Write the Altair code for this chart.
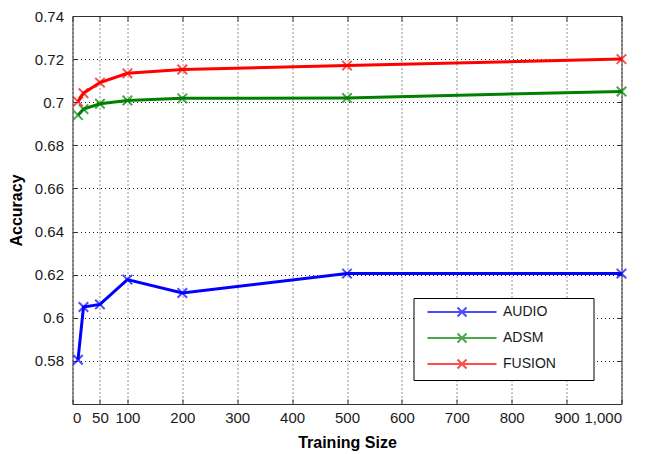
import altair as alt
import pandas as pd

sizes = [10, 20, 50, 100, 200, 500, 1000]
audio = [0.5805, 0.605, 0.6062, 0.6177, 0.6115, 0.6205, 0.6205]
adsm = [0.694, 0.6968, 0.6993, 0.7008, 0.7018, 0.702, 0.705]
fusion = [0.7003, 0.7042, 0.7091, 0.7134, 0.7152, 0.717, 0.720]
series = ["AUDIO", "ADSM", "FUSION"]
colors = ["#0000FF", "#008000", "#FF0000"]
x_ticks = [0, 50, 100, 200, 300, 400, 500, 600, 700, 800, 900, 1000]
y_ticks = [0.58, 0.60, 0.62, 0.64, 0.66, 0.68, 0.70, 0.72, 0.74]

rows = []
for name, vals in zip(series, [audio, adsm, fusion]):
    for s, v in zip(sizes, vals):
        rows.append({"size": s, "acc": v, "series": name})
df = pd.DataFrame(rows)

FONT = "Liberation Sans"
XPATH = "M-1,-1L1,1M-1,1L1,-1"
LEGPATH = "M-6.9,0L6.9,0M-0.9,-0.9L0.9,0.9M-0.9,0.9L0.9,-0.9"

xscale = alt.Scale(domain=[0, 1000], nice=False, zero=False)
yscale = alt.Scale(domain=[0.56, 0.74], nice=False, zero=False)

color = alt.Color(
    "series:N",
    scale=alt.Scale(domain=series, range=colors),
    sort=series,
    legend=alt.Legend(
        title=" ",
        titleOrient="right",
        titlePadding=31,
        titleFontSize=2,
        orient="none",
        legendX=341,
        legendY=282,
        strokeColor="#000000",
        fillColor="#FFFFFF",
        padding=7,
        symbolType=LEGPATH,
        symbolSize=100,
        symbolStrokeWidth=2,
        symbolFillColor="transparent",
        symbolOffset=34.5,
        labelOffset=34,
        rowPadding=8,
        labelFont=FONT,
        labelFontSize=14,
        labelColor="#1a1a1a",
    ),
)

axis_common = dict(
    grid=True,
    gridDash=[1, 3],
    gridColor="#222222",
    gridOpacity=1,
    domain=False,
    tickSize=5,
    offset=-5,
    tickColor="#333333",
    labelFont=FONT,
    labelFontSize=15,
    labelColor="#1a1a1a",
    titleFont=FONT,
    titleFontSize=16,
    titleFontWeight="bold",
    titleColor="#000000",
)

base = alt.Chart(df)

lines = base.mark_line(strokeWidth=3).encode(
    x=alt.X(
        "size:Q",
        scale=xscale,
        axis=alt.Axis(values=x_ticks, format=",d", title="Training Size",
                      labelPadding=6, titlePadding=9, **axis_common),
    ),
    y=alt.Y(
        "acc:Q",
        scale=yscale,
        axis=alt.Axis(values=y_ticks, format="~g", title="Accuracy",
                      labelPadding=9, titlePadding=10, **axis_common),
    ),
    color=color,
    order="size:Q",
)

points = base.mark_point(shape=XPATH, filled=False, size=90, strokeWidth=2).encode(
    x=alt.X("size:Q", scale=xscale, axis=None),
    y=alt.Y("acc:Q", scale=yscale, axis=None),
    color=color,
)

tick_axis = dict(grid=False, labels=False, title=None, domain=False,
                 tickSize=5, offset=-5, tickColor="#333333")
frame_ticks = base.mark_point(opacity=0).encode(
    x=alt.X("size:Q", scale=xscale, axis=alt.Axis(orient="top", values=x_ticks, **tick_axis)),
    y=alt.Y("acc:Q", scale=yscale, axis=alt.Axis(orient="right", values=y_ticks, **tick_axis)),
)

chart = (
    alt.layer(lines, points, frame_ticks)
    .resolve_axis(x="independent", y="independent")
    .properties(
        width=549,
        height=388,
        autosize=alt.AutoSizeParams(type="none"),
        padding={"left": 64.5, "top": 8, "right": 25, "bottom": 50},
        background="#FFFFFF",
    )
    .configure_view(stroke="#333333", strokeWidth=1)
)

chart.save("out.html", embed_options={"renderer": "svg", "actions": False})
